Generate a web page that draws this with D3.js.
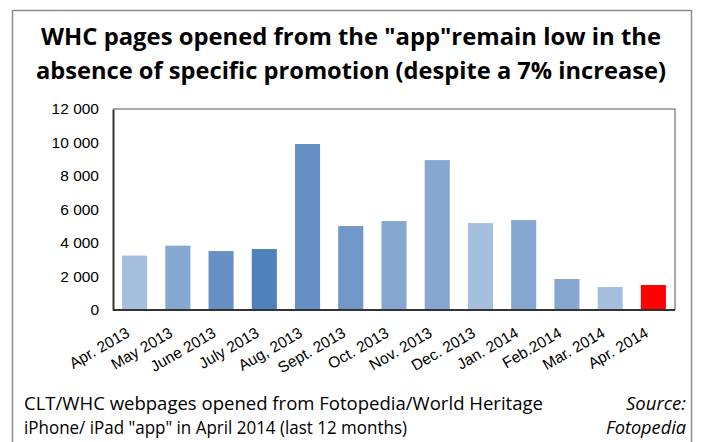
<!DOCTYPE html>
<html>
<head>
<meta charset="utf-8">
<script src="https://cdn.jsdelivr.net/npm/d3@7"></script>
<style>
  body { margin: 0; background: #fff; }
  svg { display: block; }
</style>
</head>
<body>
<div id="chart"></div>
<script>
// Monthly WHC pages opened from the Fotopedia app
const months = ["Apr. 2013", "May 2013", "June 2013", "July 2013", "Aug, 2013", "Sept. 2013",
  "Oct. 2013", "Nov. 2013", "Dec. 2013", "Jan. 2014", "Feb.2014", "Mar. 2014", "Apr. 2014"];
const pages = [3250, 3840, 3520, 3640, 9910, 5010, 5310, 8950, 5190, 5370, 1850, 1370, 1490];
const barColors = ["#a7bfde", "#86a8d0", "#6890c6", "#4f81bd", "#6690c5", "#7097c8",
  "#86a8d0", "#86a8d0", "#a7bfde", "#86a8d0", "#86a8d0", "#a7bfde", "#ff0000"];
const yTicks = [0, 2000, 4000, 6000, 8000, 10000, 12000];

const width = 701;
const height = 442;
const plot = { left: 113, right: 675, top: 109, bottom: 310 };

const svg = d3.select("#chart")
  .append("svg")
  .attr("width", width)
  .attr("height", height);

// outer frame
svg.append("rect")
  .attr("x", 12.5)
  .attr("y", 10.5)
  .attr("width", 679)
  .attr("height", 450)
  .attr("fill", "none")
  .attr("stroke", "#8c8c8c")
  .attr("stroke-width", 1.5);

// title
const title = svg.append("text")
  .attr("text-anchor", "middle")
  .style("font-family", "'Open Sans', 'Liberation Sans', sans-serif")
  .style("font-weight", "bold")
  .style("font-size", "23px")
  .attr("fill", "#000");
title.append("tspan").attr("x", 351).attr("y", 44.5)
  .attr("textLength", 620).attr("lengthAdjust", "spacingAndGlyphs")
  .text('WHC pages opened from the "app"remain low in the');
title.append("tspan").attr("x", 351).attr("y", 78.5)
  .attr("textLength", 630).attr("lengthAdjust", "spacingAndGlyphs")
  .text("absence of specific promotion (despite a 7% increase)");

// scales
const x = d3.scaleBand()
  .domain(months)
  .range([plot.left, plot.right])
  .paddingInner(0.42)
  .paddingOuter(0.21);

const y = d3.scaleLinear()
  .domain([0, 12000])
  .range([plot.bottom, plot.top]);

// plot frame (top/right grey)
svg.append("path")
  .attr("d", `M${plot.left},${plot.top}H${plot.right}V${plot.bottom}`)
  .attr("fill", "none")
  .attr("stroke", "#8c8c8c")
  .attr("stroke-width", 1.5);

// bars
svg.selectAll(".bar")
  .data(pages)
  .enter()
  .append("rect")
  .attr("class", "bar")
  .attr("x", (d, i) => x(months[i]))
  .attr("y", d => y(d))
  .attr("width", x.bandwidth())
  .attr("height", d => y(0) - y(d))
  .attr("fill", (d, i) => barColors[i]);

// y axis
const yAxis = svg.append("g")
  .attr("transform", `translate(${plot.left},0)`)
  .call(d3.axisLeft(y)
    .tickValues(yTicks)
    .tickSize(0)
    .tickPadding(14)
    .tickFormat(d => d3.format(",")(d).replace(",", " ")));
yAxis.select(".domain").attr("stroke", "#333").attr("stroke-width", 2);
yAxis.selectAll("text")
  .style("font-family", "'Liberation Sans', Arial, sans-serif")
  .style("font-size", "15.5px")
  .attr("fill", "#000");

// x axis
const xAxis = svg.append("g")
  .attr("transform", `translate(0,${plot.bottom})`)
  .call(d3.axisBottom(x).tickSize(0).tickSizeOuter(0));
xAxis.select(".domain").attr("stroke", "#333").attr("stroke-width", 2)
  .attr("d", `M${plot.left},0H${plot.right}`);
xAxis.selectAll("text")
  .style("font-family", "'Liberation Sans', Arial, sans-serif")
  .style("font-size", "15.5px")
  .attr("fill", "#000")
  .attr("text-anchor", "end")
  .attr("dy", 0)
  .attr("y", 0)
  .attr("transform", "translate(-4,26) rotate(-30)");

// footer note
const note = svg.append("text")
  .style("font-family", "'Open Sans', 'Liberation Sans', sans-serif")
  .style("font-size", "19px")
  .attr("fill", "#000");
note.append("tspan").attr("x", 24).attr("y", 410)
  .attr("textLength", 519).attr("lengthAdjust", "spacingAndGlyphs")
  .text("CLT/WHC webpages opened from Fotopedia/World Heritage");
note.append("tspan").attr("x", 24).attr("y", 434)
  .attr("textLength", 383).attr("lengthAdjust", "spacingAndGlyphs")
  .text('iPhone/ iPad "app" in April 2014 (last 12 months)');

const source = svg.append("text")
  .attr("text-anchor", "end")
  .style("font-family", "'Open Sans', 'Liberation Sans', sans-serif")
  .style("font-style", "italic")
  .style("font-size", "19px")
  .attr("fill", "#000");
source.append("tspan").attr("x", 686).attr("y", 410)
  .attr("textLength", 60).attr("lengthAdjust", "spacingAndGlyphs")
  .text("Source:");
source.append("tspan").attr("x", 686).attr("y", 434)
  .attr("textLength", 80).attr("lengthAdjust", "spacingAndGlyphs")
  .text("Fotopedia");
</script>
</body>
</html>
